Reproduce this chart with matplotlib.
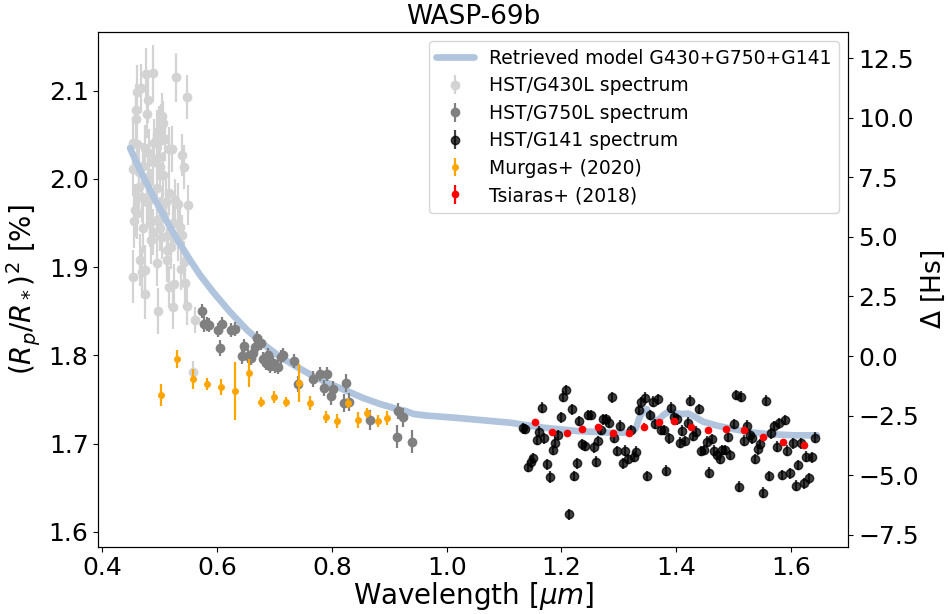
import numpy as np
import matplotlib
matplotlib.use("Agg")
import matplotlib.pyplot as plt

# ---------------- data ----------------
model_wl = [0.4483, 0.4657, 0.4831, 0.5006, 0.5180, 0.5354, 0.5529, 0.5703, 0.5930, 0.6226,
            0.6522, 0.6801, 0.7098, 0.7394, 0.7673, 0.7969, 0.8266, 0.8545, 0.8841, 0.9137,
            0.9290, 0.9416, 0.9625, 1.0096, 1.1107, 1.1682,
            1.2275, 1.2850, 1.3210, 1.3297, 1.3355, 1.3414, 1.3489, 1.3547, 1.3604, 1.3692,
            1.3779, 1.3866, 1.3983, 1.4105, 1.4209, 1.4331, 1.4471, 1.4715, 1.4994, 1.5291,
            1.5587, 1.6040, 1.6453]
model_depth = [2.0350, 2.0101, 1.9874, 1.9659, 1.9455, 1.9262, 1.9081, 1.8910, 1.8718, 1.8491,
               1.8287, 1.8128, 1.7981, 1.7867, 1.7765, 1.7675, 1.7595, 1.7516, 1.7448, 1.7391,
               1.7368, 1.7336, 1.7318, 1.7295, 1.7236, 1.7180,
               1.7142, 1.7122, 1.7122, 1.7172, 1.7286, 1.7361, 1.7388, 1.7323, 1.7266, 1.7266,
               1.7323, 1.7361, 1.7346, 1.7334, 1.7340, 1.7300, 1.7247, 1.7202, 1.7164, 1.7127,
               1.7108, 1.7093, 1.7093]

g430_wl = [0.4762, 0.4889, 0.5285, 0.5482, 0.4600, 0.4675, 0.4797, 0.4587, 0.4587, 0.4784,
           0.5035, 0.5053, 0.4994, 0.5023, 0.4948, 0.5093, 0.4906, 0.4540, 0.4610, 0.4744,
           0.4819, 0.5163, 0.5210, 0.5394, 0.5424, 0.4540, 0.4645, 0.4715, 0.4889, 0.4994,
           0.5006, 0.5053, 0.4802, 0.4645, 0.4849, 0.4948, 0.5163, 0.5110, 0.5325, 0.4687,
           0.4774, 0.4819, 0.5035, 0.5267, 0.5489, 0.4570, 0.4610, 0.4558, 0.4715, 0.4831,
           0.4948, 0.5006, 0.5238, 0.5150, 0.5354, 0.5197, 0.5325, 0.5384, 0.4849, 0.4889,
           0.5035, 0.5133, 0.5006, 0.4657, 0.4744, 0.4687, 0.4540, 0.4948, 0.5123, 0.5367,
           0.5429, 0.5168, 0.5255, 0.5442, 0.4744, 0.4976, 0.5227, 0.5471, 0.5616, 0.5586]
g430_depth = [2.1186, 2.1197, 2.1152, 2.0932, 2.0989, 2.1027, 2.0891, 2.0781, 2.0676, 2.0736,
              2.0713, 2.0630, 2.0554, 2.0585, 2.0498, 2.0452, 2.0410, 2.0404, 2.0396, 2.0347,
              2.0297, 2.0342, 2.0339, 2.0271, 2.0138, 2.0109, 2.0082, 2.0146, 2.0195, 2.0252,
              2.0138, 2.0044, 2.0025, 1.9912, 1.9837, 1.9893, 1.9844, 1.9741, 1.9712, 1.9791,
              1.9741, 1.9761, 1.9667, 1.9761, 1.9704, 1.9647, 1.9610, 1.9519, 1.9440, 1.9497,
              1.9534, 1.9542, 1.9503, 1.9364, 1.9458, 1.9231, 1.9307, 1.9364, 1.9307, 1.9401,
              1.9345, 1.9194, 1.9440, 1.9081, 1.8967, 1.8941, 1.8891, 1.9050, 1.9080, 1.8975,
              1.9061, 1.8778, 1.8808, 1.8816, 1.8692, 1.8506, 1.8544, 1.8562, 1.8400, 1.7814]
g430_err = [0.030, 0.032, 0.028, 0.025, 0.030, 0.028, 0.026, 0.030, 0.028, 0.027,
            0.026, 0.025, 0.027, 0.026, 0.028, 0.025, 0.027, 0.030, 0.028, 0.026,
            0.027, 0.025, 0.026, 0.024, 0.025, 0.030, 0.028, 0.026, 0.027, 0.026,
            0.025, 0.026, 0.027, 0.029, 0.027, 0.026, 0.025, 0.026, 0.024, 0.028,
            0.027, 0.026, 0.025, 0.024, 0.023, 0.030, 0.029, 0.030, 0.028, 0.027,
            0.026, 0.025, 0.024, 0.026, 0.024, 0.025, 0.024, 0.023, 0.027, 0.026,
            0.025, 0.025, 0.026, 0.029, 0.028, 0.029, 0.030, 0.026, 0.025, 0.024,
            0.023, 0.024, 0.023, 0.022, 0.028, 0.026, 0.024, 0.022, 0.015, 0.012]

g750_wl = [0.5743, 0.5773, 0.5820, 0.5865, 0.6012, 0.6052, 0.6086, 0.6238, 0.6313, 0.6430,
           0.6470, 0.6545, 0.6587, 0.6622, 0.6662, 0.6691, 0.6761, 0.6806, 0.6848, 0.6883,
           0.6923, 0.6970, 0.7010, 0.7057, 0.7115, 0.7155, 0.7341, 0.7416, 0.7678, 0.7795,
           0.7870, 0.7911, 0.7986, 0.8027, 0.8213, 0.8248, 0.8300, 0.8666, 0.9159, 0.9132,
           0.9236, 0.9393]
g750_depth = [1.8506, 1.8355, 1.8355, 1.8344, 1.8287, 1.8079, 1.8351, 1.8287, 1.8295, 1.7992,
              1.8105, 1.7992, 1.7973, 1.8029, 1.8098, 1.8193, 1.8143, 1.7955, 1.7909, 1.8003,
              1.7882, 1.7909, 1.7882, 1.7871, 1.7977, 1.8003, 1.7939, 1.7675, 1.7731, 1.7788,
              1.7633, 1.7788, 1.7542, 1.7618, 1.7456, 1.7683, 1.7474, 1.7266, 1.7372, 1.7077,
              1.7297, 1.7020]
g750_err = [0.008, 0.009, 0.008, 0.008, 0.008, 0.009, 0.008, 0.008, 0.008, 0.009,
            0.008, 0.008, 0.008, 0.008, 0.008, 0.008, 0.008, 0.008, 0.008, 0.008,
            0.008, 0.008, 0.008, 0.008, 0.008, 0.008, 0.008, 0.009, 0.009, 0.008,
            0.009, 0.008, 0.010, 0.009, 0.010, 0.010, 0.010, 0.011, 0.009, 0.013,
            0.011, 0.013]

g141_wl = [1.1338, 1.1368, 1.1426, 1.1467, 1.1513, 1.1572, 1.1617, 1.1659, 1.1704, 1.1757,
           1.1804, 1.1851, 1.1891, 1.1938, 1.1990, 1.2036, 1.2083, 1.2130, 1.2182, 1.2227,
           1.2269, 1.2314, 1.2367, 1.2414, 1.2471, 1.2513, 1.2559, 1.2600, 1.2646, 1.2687,
           1.2733, 1.2780, 1.2832, 1.2879, 1.2924, 1.2977, 1.3024, 1.3071, 1.3116, 1.3163,
           1.3210, 1.3256, 1.3303, 1.3355, 1.3390, 1.3448, 1.3489, 1.3547, 1.3587, 1.3634,
           1.3681, 1.3733, 1.3779, 1.3821, 1.3866, 1.3913, 1.3966, 1.4012, 1.4058, 1.4105,
           1.4152, 1.4197, 1.4244, 1.4291, 1.4343, 1.4389, 1.4436, 1.4483, 1.4528, 1.4575,
           1.4622, 1.4662, 1.4709, 1.4755, 1.4802, 1.4849, 1.4901, 1.4946, 1.4999, 1.5046,
           1.5093, 1.5133, 1.5185, 1.5232, 1.5278, 1.5325, 1.5372, 1.5417, 1.5464, 1.5517,
           1.5564, 1.5609, 1.5656, 1.5696, 1.5748, 1.5795, 1.5842, 1.5888, 1.5935, 1.5987,
           1.6034, 1.6079, 1.6126, 1.6173, 1.6219, 1.6266, 1.6318, 1.6365, 1.6411]
g141_depth = [1.7172, 1.7164, 1.6737, 1.6794, 1.6832, 1.7040, 1.7134, 1.7406, 1.7059, 1.6764,
              1.6617, 1.6926, 1.7009, 1.7096, 1.7297, 1.7531, 1.7607, 1.6197, 1.7388, 1.6631,
              1.6776, 1.7255, 1.6991, 1.6972, 1.7323, 1.7323, 1.6957, 1.6794, 1.7028, 1.7153,
              1.7274, 1.7274, 1.7236, 1.7524, 1.7066, 1.6915, 1.7202, 1.6776, 1.6918, 1.6824,
              1.7153, 1.6850, 1.6907, 1.7380, 1.7467, 1.7519, 1.6631, 1.7323, 1.7474, 1.7221,
              1.7501, 1.7153, 1.7153, 1.6692, 1.7059, 1.7406, 1.7297, 1.7274, 1.7009, 1.7145,
              1.7028, 1.7236, 1.7485, 1.7085, 1.7134, 1.7391, 1.6915, 1.6926, 1.7020, 1.6669,
              1.7051, 1.6918, 1.6870, 1.6824, 1.6926, 1.6926, 1.7074, 1.6870, 1.7221, 1.7550,
              1.6510, 1.7531, 1.7032, 1.7202, 1.7096, 1.7059, 1.6824, 1.6934, 1.6994, 1.6442,
              1.7485, 1.6631, 1.7116, 1.7198, 1.6964, 1.7229, 1.6643, 1.7266, 1.6918, 1.6662,
              1.7002, 1.6522, 1.6756, 1.7002, 1.6549, 1.6850, 1.6605, 1.6844, 1.7066]
g141_err = [0.006, 0.006, 0.006, 0.007, 0.006, 0.006, 0.006, 0.006, 0.006, 0.006,
            0.007, 0.006, 0.006, 0.006, 0.006, 0.006, 0.006, 0.006, 0.006, 0.006,
            0.006, 0.006, 0.006, 0.006, 0.006, 0.006, 0.006, 0.006, 0.006, 0.006,
            0.006, 0.006, 0.006, 0.006, 0.006, 0.006, 0.006, 0.006, 0.006, 0.006,
            0.006, 0.006, 0.006, 0.006, 0.006, 0.006, 0.006, 0.006, 0.006, 0.006,
            0.006, 0.006, 0.006, 0.006, 0.006, 0.006, 0.006, 0.006, 0.006, 0.006,
            0.006, 0.006, 0.006, 0.006, 0.006, 0.006, 0.006, 0.006, 0.006, 0.006,
            0.006, 0.006, 0.006, 0.006, 0.006, 0.006, 0.006, 0.006, 0.006, 0.006,
            0.006, 0.006, 0.006, 0.006, 0.006, 0.006, 0.006, 0.006, 0.006, 0.006,
            0.006, 0.006, 0.006, 0.006, 0.006, 0.006, 0.006, 0.006, 0.006, 0.006,
            0.006, 0.006, 0.006, 0.006, 0.006, 0.006, 0.006, 0.006, 0.006]

murgas_wl = [0.5018, 0.5297, 0.5576, 0.5825, 0.6064, 0.6308, 0.6557, 0.6771, 0.6993, 0.7202,
             0.7423, 0.7620, 0.7899, 0.8091, 0.8288, 0.8457, 0.8619, 0.8800, 0.8968]
murgas_depth = [1.7550, 1.7958, 1.7731, 1.7675, 1.7637, 1.7595, 1.7803, 1.7474, 1.7524, 1.7467,
                1.7689, 1.7456, 1.7304, 1.7259, 1.7456, 1.7270, 1.7349, 1.7255, 1.7293]
murgas_err = [0.0125, 0.0102, 0.0113, 0.0068, 0.0091, 0.0329, 0.0159, 0.0057, 0.0068, 0.0057,
              0.0215, 0.0079, 0.0068, 0.0079, 0.0057, 0.0091, 0.0057, 0.0068, 0.0079]

tsiaras_wl = [1.1542, 1.1834, 1.2105, 1.2362, 1.2646, 1.2907, 1.3176, 1.3442, 1.3704, 1.3970,
              1.4261, 1.4552, 1.4866, 1.5173, 1.5504, 1.5853, 1.6231]
tsiaras_depth = [1.7244, 1.7127, 1.7116, 1.7168, 1.7190, 1.7116, 1.7119, 1.7190, 1.7244, 1.7252,
                 1.7184, 1.7156, 1.7161, 1.7150, 1.7077, 1.7014, 1.6980]
tsiaras_err = [0.002, 0.002, 0.002, 0.002, 0.002, 0.002, 0.002, 0.004, 0.002, 0.002,
               0.003, 0.002, 0.002, 0.002, 0.002, 0.002, 0.002]

# Conversion of transit depth to atmospheric scale heights (right axis)
depth_zero = 1.7992
depth_per_hs = 0.02703

# ---------------- plot ----------------
fig = plt.figure(figsize=(9.48, 6.14), dpi=100)
ax = fig.add_axes([0.1037, 0.1096, 0.7912, 0.8383])

line_model, = ax.plot(model_wl, model_depth, color='#b0c4de', lw=4.8, zorder=2,
                      solid_joinstyle='round', solid_capstyle='round',
                      label='Retrieved model G430+G750+G141')
e430 = ax.errorbar(g430_wl, g430_depth, yerr=g430_err, fmt='o', color='lightgray',
                   ms=6, elinewidth=1.6, zorder=1, label='HST/G430L spectrum')
e750 = ax.errorbar(g750_wl, g750_depth, yerr=g750_err, fmt='o', color='gray',
                   ms=6, elinewidth=1.6, zorder=3, label='HST/G750L spectrum')
e141 = ax.errorbar(g141_wl, g141_depth, yerr=g141_err, fmt='o', color='black', alpha=0.75,
                   ms=6, elinewidth=1.6, zorder=3, label='HST/G141 spectrum')
emur = ax.errorbar(murgas_wl, murgas_depth, yerr=murgas_err, fmt='o', color='orange',
                   ms=4, elinewidth=1.6, zorder=4, label='Murgas+ (2020)')
etsi = ax.errorbar(tsiaras_wl, tsiaras_depth, yerr=tsiaras_err, fmt='o', color='red',
                   ms=4.5, elinewidth=1.6, zorder=5, label='Tsiaras+ (2018)')

ax.set_xlim(0.393, 1.70)
ax.set_ylim(1.583, 2.1666)
ax.set_xticks([0.4, 0.6, 0.8, 1.0, 1.2, 1.4, 1.6])
ax.set_yticks([1.6, 1.7, 1.8, 1.9, 2.0, 2.1])
ax.tick_params(labelsize=18)
ax.set_xlabel(r'Wavelength [$\mu m$]', fontsize=20, labelpad=0)
ax.set_ylabel(r'$(R_p/R_*)^2$ [%]', fontsize=20)
ax.set_title('WASP-69b', fontsize=19)

ax.legend(handles=[line_model, e430, e750, e141, emur, etsi], loc='upper right',
          fontsize=13.5, labelspacing=0.45)

ax2 = ax.twinx()
lo, hi = ax.get_ylim()
ax2.set_ylim((lo - depth_zero) / depth_per_hs, (hi - depth_zero) / depth_per_hs)
ax2.set_yticks([-7.5, -5.0, -2.5, 0.0, 2.5, 5.0, 7.5, 10.0, 12.5])
ax2.tick_params(labelsize=18)
ax2.set_ylabel(r'$\Delta$ [Hs]', fontsize=19, labelpad=1)

fig.savefig('out.png', dpi=100)
